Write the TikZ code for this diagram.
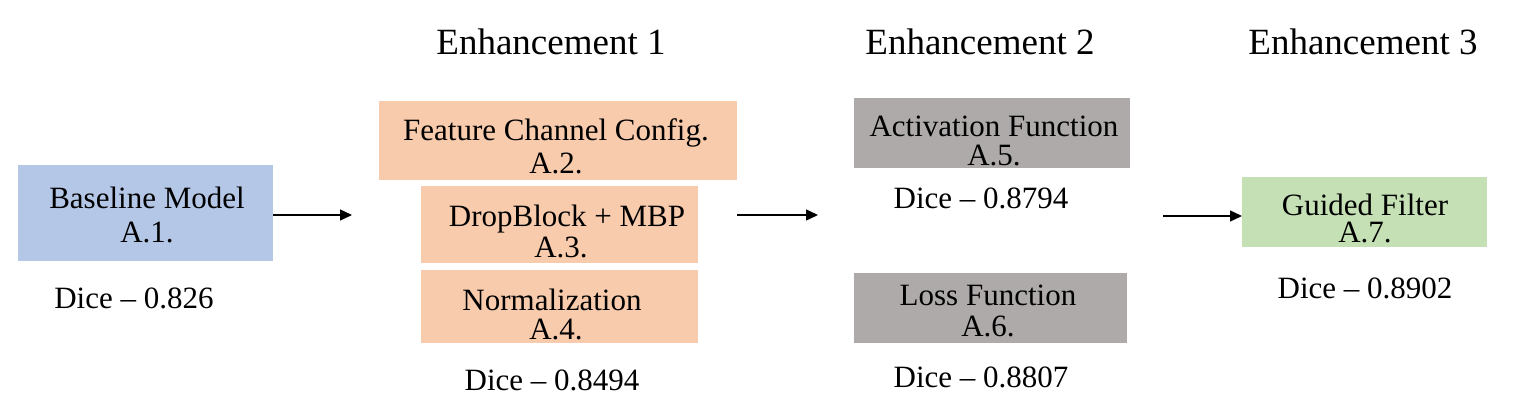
\documentclass[tikz,border=0pt]{standalone}
\usepackage{fontspec}
\setmainfont{Liberation Serif}
\usetikzlibrary{arrows.meta}
\definecolor{cblue}{HTML}{B4C7E7}
\definecolor{corange}{HTML}{F8CBAD}
\definecolor{cgray}{HTML}{AEAAAA}
\definecolor{cgreen}{HTML}{C5E0B4}
\tikzset{
  box/.style={rectangle, draw=none, inner sep=0pt, anchor=north west},
  txt/.style={inner sep=0pt, align=center, font=\fontsize{31}{#1}\selectfont},
  txt/.default=34,
  head/.style={inner sep=0pt, font=\fontsize{37}{40}\selectfont},
  conn/.style={line width=1.4pt, -{Triangle[length=12pt,width=11pt]}}
}
\begin{document}
\begin{tikzpicture}[x=1pt,y=-1pt]
\useasboundingbox (0,0) rectangle (1519,415);
% headings
\node[head] (h1) at (551,42) {Enhancement 1};
\node[head] (h2) at (980,42) {Enhancement 2};
\node[head] (h3) at (1363,42) {Enhancement 3};
% boxes
\node[box, fill=cblue, minimum width=255pt, minimum height=96pt] (b1) at (18,165) {};
\node[box, fill=corange, minimum width=358pt, minimum height=79pt] (b2) at (379,101) {};
\node[box, fill=corange, minimum width=277pt, minimum height=77pt] (b3) at (421,186) {};
\node[box, fill=corange, minimum width=277pt, minimum height=73pt] (b4) at (421,270) {};
\node[box, fill=cgray, minimum width=276pt, minimum height=70pt] (b5) at (854,98) {};
\node[box, fill=cgray, minimum width=273pt, minimum height=70pt] (b6) at (854,273) {};
\node[box, fill=cgreen, minimum width=245pt, minimum height=70pt] (b7) at (1242,177) {};
% box texts
\node[txt=34] (t1) at (147,215) {Baseline Model\\A.1.};
\node[txt=33] (t2) at (556,146) {Feature Channel Config.\\A.2.};
\node[txt=31] (t3) at (561,231) {\hspace*{12pt}DropBlock + MBP\\A.3.};
\node[txt=29] (t4) at (556,314) {Normalization\hspace*{8pt}\\A.4.};
\node[txt=29] (t5) at (994,141) {Activation Function\\A.5.};
\node[txt=31] (t6) at (988,311) {Loss Function\\A.6.};
\node[txt=27] (t7) at (1365,218) {Guided Filter\\A.7.};
% dice labels
\node[txt] (d1) at (134,298) {Dice -- 0.826};
\node[txt] (d2) at (552,380) {Dice -- 0.8494};
\node[txt] (d3) at (981,198) {Dice -- 0.8794};
\node[txt] (d4) at (981,377) {Dice -- 0.8807};
\node[txt] (d5) at (1365,288) {Dice -- 0.8902};
% connectors
\coordinate (a1e) at (352,215);
\coordinate (a2s) at (737,215);
\coordinate (a2e) at (818,215);
\coordinate (a3s) at (1163,216);
\draw[conn] (b1.east |- a1e) -- (a1e);
\draw[conn] (a2s) -- (a2e);
\draw[conn] (a3s) -- (b7.west |- a3s);
\end{tikzpicture}
\end{document}
